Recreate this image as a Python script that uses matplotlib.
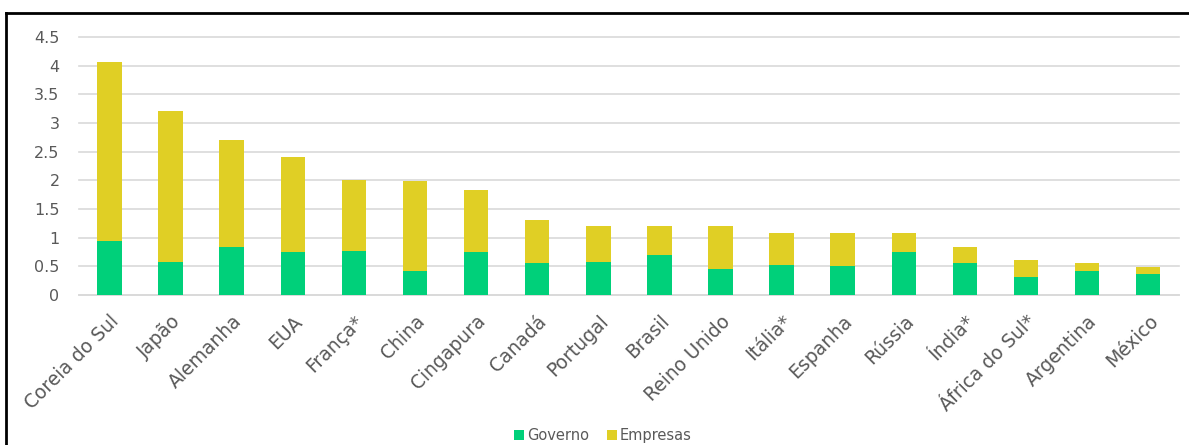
import matplotlib
matplotlib.use("Agg")
import matplotlib.pyplot as plt
from matplotlib.lines import Line2D
import numpy as np

categories = ["Coreia do Sul", "Japão", "Alemanha", "EUA", "França*", "China",
              "Cingapura", "Canadá", "Portugal", "Brasil", "Reino Unido", "Itália*",
              "Espanha", "Rússia", "Índia*", "África do Sul*", "Argentina", "México"]
total = [4.07, 3.21, 2.70, 2.41, 2.01, 1.98, 1.83, 1.31, 1.21, 1.20, 1.20, 1.09,
         1.08, 1.08, 0.84, 0.605, 0.55, 0.49]
governo = [0.94, 0.58, 0.84, 0.745, 0.77, 0.42, 0.745, 0.55, 0.576, 0.70, 0.46, 0.53,
           0.506, 0.745, 0.565, 0.32, 0.425, 0.366]
empresas = [t - g for t, g in zip(total, governo)]
yticks = [0, 0.5, 1, 1.5, 2, 2.5, 3, 3.5, 4, 4.5]
ytick_labels = ["0", "0.5", "1", "1.5", "2", "2.5", "3", "3.5", "4", "4.5"]

green = "#00D07A"
yellow = "#E0CF25"
txt = "#595959"

plt.rcParams['font.family'] = ['DejaVu Sans']
fig = plt.figure(figsize=(11.89, 4.45), dpi=100)
ax = fig.add_axes([0.0664, 0.337, 0.925, 0.58])

x = np.arange(len(categories))
ax.bar(x, governo, width=0.4, color=green, label="Governo", zorder=3)
ax.bar(x, empresas, width=0.4, bottom=governo, color=yellow, label="Empresas", zorder=3)

ax.set_xlim(-0.5, len(categories) - 0.5)
ax.set_ylim(0, 4.5)
ax.set_yticks(yticks)
ax.set_yticklabels(ytick_labels)
ax.grid(axis='y', color="#D9D9D9", linewidth=1.2, zorder=0)
for gl in ax.get_ygridlines():
    gl.set_clip_on(False)
ax.set_axisbelow(True)
for s in ["top", "right", "left"]:
    ax.spines[s].set_visible(False)
ax.spines["bottom"].set_color("#D9D9D9")
ax.spines["bottom"].set_linewidth(1.2)
ax.tick_params(axis='both', length=0, colors=txt, labelsize=11.5)
ax.tick_params(axis='y', pad=14)
ax.set_xticks(x)
ax.set_xticklabels(categories, rotation=45, ha='right', rotation_mode='anchor',
                   fontsize=13.5, color=txt)
ax.tick_params(axis='x', pad=12)

leg = fig.legend(loc='lower center', bbox_to_anchor=(0.507, -0.025), ncol=2, frameon=False,
                 fontsize=10.5, handlelength=0.7, handleheight=0.7, handletextpad=0.2,
                 columnspacing=1.2)
for t in leg.get_texts():
    t.set_color(txt)

# outer frame (top and left edges)
fig.add_artist(Line2D([6/1189, 1], [1 - 13/445, 1 - 13/445], transform=fig.transFigure,
                      color="black", linewidth=2))
fig.add_artist(Line2D([6/1189, 6/1189], [0, 1 - 13/445], transform=fig.transFigure,
                      color="black", linewidth=2))

fig.savefig("out.png", dpi=100, facecolor="white")
